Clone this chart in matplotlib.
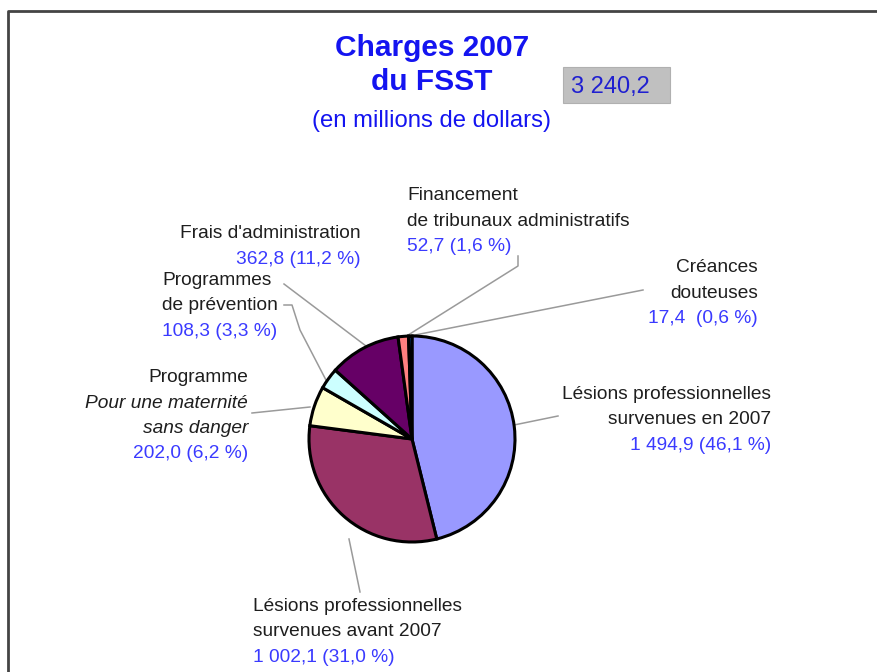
import matplotlib.pyplot as plt
from matplotlib.patches import Rectangle

plt.rcParams['font.family'] = ['Liberation Sans', 'DejaVu Sans']

# Charges 2007 du FSST (millions de dollars), clockwise from 12 o'clock
categories = ['Lésions 2007', 'Lésions avant 2007', 'Maternité', 'Prévention',
              'Administration', 'Tribunaux', 'Créances']
values = [1494.9, 1002.1, 202.0, 108.3, 362.8, 52.7, 17.4]
percents = ['46,1', '31,0', '6,2', '3,3', '11,2', '1,6', '0,6']
value_labels = ['1 494,9', '1 002,1', '202,0', '108,3', '362,8', '52,7', '17,4 ']
total_label = '3 240,2'
colors = ['#9999ff', '#993366', '#ffffcc', '#ccffff', '#660066', '#ff8080', '#0066cc']

W, H = 878, 672
fig = plt.figure(figsize=(W / 100, H / 100), dpi=100)
ax = fig.add_axes([0, 0, 1, 1])

# pie (y axis is flipped afterwards so angles run clockwise on screen)
cx, cy, r = 412, 439, 103
ax.pie(values, colors=colors, startangle=270, counterclock=True,
       center=(cx, cy), radius=r,
       wedgeprops=dict(edgecolor='black', linewidth=2.2))

ax.set_xlim(0, W)
ax.set_ylim(H, 0)
ax.set_aspect('auto')
ax.axis('off')

# frame
ax.plot([8, 8, W], [H, 11, 11], color='#444444', lw=2, solid_capstyle='butt')

blue_title = '#1414f0'
blue_val = '#3a3aff'
txt = '#1e1e1e'
dy = 2.5  # va='center' includes descent, nudge down

ax.text(432, 46 + dy, 'Charges 2007', color=blue_title, fontsize=21.5, fontweight='bold',
        ha='center', va='center')
ax.text(432, 80 + dy, 'du FSST', color=blue_title, fontsize=21.5, fontweight='bold',
        ha='center', va='center')
ax.text(432, 119 + dy, '(en millions de dollars)', color=blue_title, fontsize=17.2,
        ha='center', va='center')

ax.add_patch(Rectangle((563, 67), 107, 36, facecolor='#c0c0c0', edgecolor='#b0b0b0', lw=0.8))
ax.text(571, 85 + dy, total_label, color='#2020d0', fontsize=17, ha='left', va='center')

fs = 13.8
lh = 25.5


def label(x, y, lines, ha, value_idx, italic=()):
    y = y + dy
    for i, line in enumerate(lines):
        ax.text(x, y + i * lh, line, color=txt, fontsize=fs, ha=ha, va='center',
                style='italic' if i in italic else 'normal')
    val = f'{value_labels[value_idx]} ({percents[value_idx]} %)'
    ax.text(x, y + len(lines) * lh, val, color=blue_val, fontsize=fs, ha=ha, va='center')


label(771, 392, ['Lésions professionnelles', 'survenues en 2007'], 'right', 0)
label(253, 604, ['Lésions professionnelles', 'survenues avant 2007'], 'left', 1)
label(248, 375, ['Programme', 'Pour une maternité', 'sans danger'], 'right', 2, italic=(1, 2))
label(162, 278, ['Programmes', 'de prévention'], 'left', 3)
label(361, 231, ["Frais d'administration"], 'right', 4)
label(407, 193, ['Financement', 'de tribunaux administratifs'], 'left', 5)
label(758, 265, ['Créances', 'douteuses'], 'right', 6)

# leader lines
lc = '#9a9a9a'
leaders = [
    ([514, 558], [425, 416]),
    ([349, 360], [539, 592]),
    ([310, 252], [407, 413]),
    ([327, 300, 292, 284], [382, 330, 305, 305]),
    ([366, 284], [346, 284]),
    ([405, 518, 518], [337, 266, 256]),
    ([410, 643], [336, 290]),
]
for xs, ys in leaders:
    ax.plot(xs, ys, color=lc, lw=1.1, zorder=0)

fig.savefig('out.png', dpi=100, facecolor='white')
